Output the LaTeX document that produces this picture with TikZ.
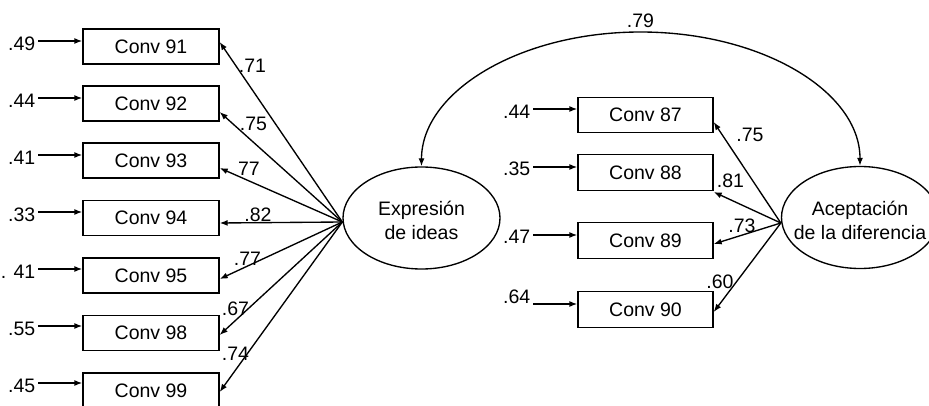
\documentclass[tikz,border=0pt]{standalone}
\usepackage{fontspec}
\setmainfont{Liberation Sans}
\usetikzlibrary{arrows.meta,shapes.geometric}
\begin{document}
\begin{tikzpicture}[x=1pt,y=-1pt,
  every node/.style={font=\fontsize{19.5}{24}\selectfont},
  lw/.style={line width=1.35pt},
  obsL/.style={draw, lw, minimum width=136pt, minimum height=35pt, inner sep=0pt},
  obsR/.style={draw, lw, minimum width=135pt, minimum height=35.5pt, inner sep=0pt},
  lat/.style={draw, lw, ellipse, minimum width=157pt, minimum height=102pt, inner sep=0pt},
  lbl/.style={inner sep=0pt},
  arr/.style={lw, -{Latex[length=8pt,width=6pt]}},
  arrb/.style={lw, {Latex[length=8pt,width=6pt]}-{Latex[length=8pt,width=6pt]}},
]
\useasboundingbox (0,0) rectangle (929,406);

% latent variables
\node[lat] (expr) at (421.5,218) {};
\node[lbl, align=center] (exprt) at (421.5,220) {Expresión\\de ideas};
\node[lat] (acc) at (860,217.5) {};
\node[lbl, align=center] (acct) at (860,220.5) {Aceptación\\de la diferencia};

% left observed variables with errors and loadings
\foreach \n/\cy/\ey/\e/\tip/\lx/\ly/\l in {
  91/46.5/41/.49/4.5/252.5/66/.71,
  92/103.5/98/.44/-8.5/253.5/124/.75,
  93/160.5/155/.41/-7.5/249/169/77,
  94/218/212/.33/-5/258/215/.82,
  95/275.5/269/. 41/-3.5/247.5/258.5/.77,
  98/333/326/.55/-2/235.5/308.5/.67,
  99/390.5/383/.45/-1.5/235.5/353.5/.74}{
  \node[obsL] (c\n) at (151,\cy) {Conv \n};
  \node[lbl, anchor=east] (le\n) at (35.5,\ey+2.5) {\e};
  \coordinate (e\n) at (38,\ey);
  \draw[arr] (e\n) -- (e\n -| c\n.west);
  \draw[arr] ([yshift=-4pt]expr.west) -- ([yshift=\tip pt]c\n.east);
  \node[lbl] (ll\n) at (\lx,\ly) {\l};
}

% right observed variables with errors and loadings
\foreach \n/\cy/\ey/\ly/\e/\tip/\lx/\lly/\l in {
  87/115/109/112/.44/-7/750/135/.75,
  88/172.5/167/169/.35/-19.5/730.5/180.5/.81,
  89/240.5/235/237/.47/-3.5/742/226/.73,
  90/309.5/304/297/.64/-2.5/720/282/.60}{
  \node[obsR] (c\n) at (645.5,\cy) {Conv \n};
  \node[lbl, anchor=east] (le\n) at (530.5,\ly) {\e};
  \coordinate (e\n) at (533,\ey);
  \draw[arr] (e\n) -- (e\n -| c\n.west);
  \draw[arr] ([yshift=-5.5pt]acc.west) -- ([yshift=\tip pt]c\n.east);
  \node[lbl] (ll\n) at (\lx,\lly) {\l};
}

% covariance
\coordinate (top) at (640.5,32);
\draw[arrb] (expr.north) .. controls +(0,-74.5) and +(-121,0) .. (top)
  .. controls +(121,0) and +(0,-74.5) .. (acc.north);
\node[lbl] (cov) at (640.5,21) {.79};
\end{tikzpicture}
\end{document}
